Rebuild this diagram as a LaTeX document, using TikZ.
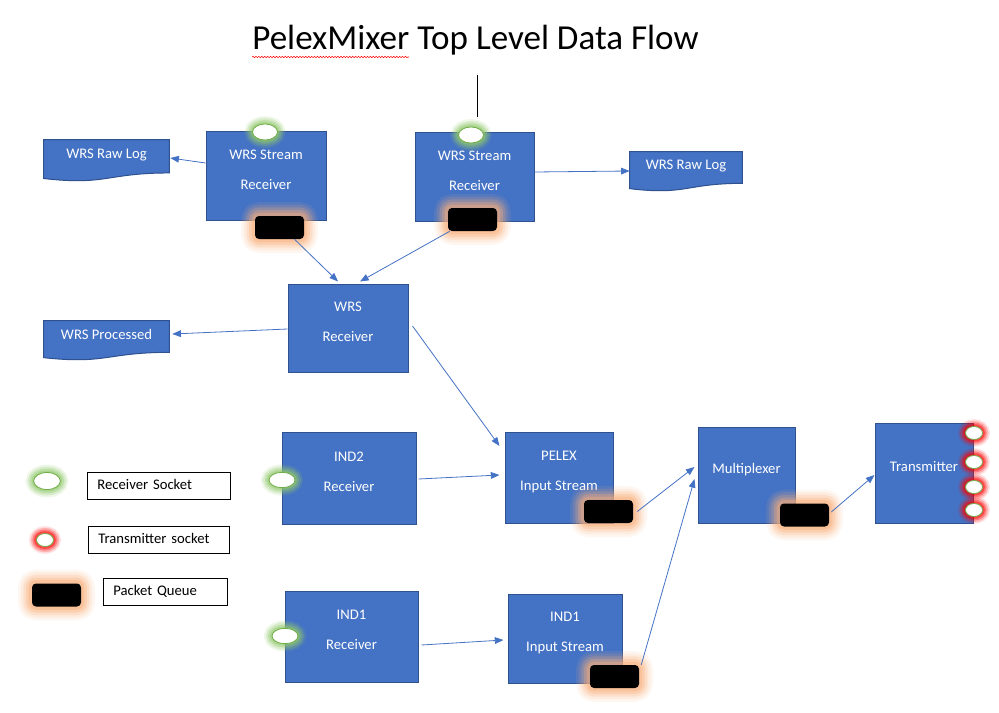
\documentclass[tikz,border=0pt]{standalone}
\usepackage{fontspec}
\setmainfont{Carlito}
\usepackage{xcolor}
\usepackage{tikz}
\usetikzlibrary{shapes.geometric, arrows.meta, calc, backgrounds, decorations.pathmorphing}

\definecolor{boxblue}{HTML}{4472C4}
\definecolor{boxline}{HTML}{2F528F}
\definecolor{sockgreen}{HTML}{70AD47}
\definecolor{glowgreen}{HTML}{92C96E}
\definecolor{glowred}{HTML}{FF0000}
\definecolor{gloworange}{HTML}{F8AE7A}

\tikzset{
    box/.style={draw=boxline, fill=boxblue, text=white, align=center, line width=0.75pt,
        font=\fontsize{11pt}{22.5pt}\selectfont, text depth=9.5pt},
    doc/.style={text=white, inner sep=0pt, font=\fontsize{11pt}{13pt}\selectfont, text depth=9.5pt},
    socket/.style={ellipse, draw=sockgreen, fill=white, inner sep=0pt, line width=0.6pt},
    rxglow/.style={preaction={draw=glowgreen, line width=12pt, draw opacity=0.15},
        preaction={draw=glowgreen, line width=9pt, draw opacity=0.25},
        preaction={draw=glowgreen, line width=6pt, draw opacity=0.35},
        preaction={draw=glowgreen, line width=3pt, draw opacity=0.5}},
    txglow/.style={preaction={draw=glowred, line width=11pt, draw opacity=0.12},
        preaction={draw=glowred, line width=8.5pt, draw opacity=0.2},
        preaction={draw=glowred, line width=6pt, draw opacity=0.3},
        preaction={draw=glowred, line width=3.5pt, draw opacity=0.45}},
    queue/.style={rectangle, rounded corners=3pt, fill=black, inner sep=0pt, line join=round,
        minimum width=36.75pt, minimum height=17.25pt,
        preaction={draw=gloworange, line width=21pt, draw opacity=0.1},
        preaction={draw=gloworange, line width=17pt, draw opacity=0.15},
        preaction={draw=gloworange, line width=13pt, draw opacity=0.22},
        preaction={draw=gloworange, line width=9pt, draw opacity=0.3},
        preaction={draw=gloworange, line width=5pt, draw opacity=0.4}},
    flow/.style={draw=boxblue, line width=0.6pt, -{Triangle[length=6.5pt, width=5pt]}},
    legend/.style={draw=black, fill=white, anchor=west, align=left, line width=0.6pt,
        inner xsep=7.5pt, minimum height=20.25pt, text height=7.5pt, text depth=2pt,
        font=\fontsize{11pt}{13pt}\selectfont}
}

\begin{document}
\begin{tikzpicture}[x=0.75pt, y=-0.75pt]
    \useasboundingbox (0,0) rectangle (999,713);

    \node[anchor=base, inner sep=0pt, font=\fontsize{26.3pt}{30pt}\selectfont] (title) at (475.5,50) {PelexMixer Top Level Data Flow};
    \draw[red, line width=0.4pt, decorate, decoration={snake, amplitude=0.5pt, segment length=2.2pt}]
        ($(title.base west)+(0,7)$) -- ($(title.base west)+(157,7)$);
    \coordinate (mark top) at (477,75);
    \coordinate (mark bottom) at (477,117);
    \draw[line width=0.7pt] (mark top) -- (mark bottom);

    \node[box, minimum width=90pt, minimum height=66pt] (wsrA) at (266,176) {WRS Stream\\Receiver};
    \node[box, minimum width=89.25pt, minimum height=66pt] (wsrB) at (474.5,177) {WRS Stream\\Receiver};
    \node[box, minimum width=90pt, minimum height=66pt] (wrs) at (348,328) {WRS\\Receiver};
    \node[box, minimum width=100.5pt, minimum height=69pt] (ind2rx) at (349,478) {IND2\\Receiver};
    \node[box, minimum width=81pt, minimum height=68.25pt] (pelex) at (559,477.5) {PELEX\\Input Stream};
    \node[box, minimum width=99.75pt, minimum height=68.25pt] (ind1rx) at (351.5,636.5) {IND1\\Receiver};
    \node[box, minimum width=85.5pt, minimum height=66.75pt] (ind1in) at (565,638.5) {IND1\\Input Stream};
    \node[box, minimum width=72.75pt, minimum height=72pt] (mux) at (746.5,475) {Multiplexer};
    \node[box, minimum width=73.5pt, minimum height=75pt] (tx) at (924,473) {Transmitter};

    \node[doc, minimum width=93.75pt, minimum height=30.75pt] (rawA) at (106.5,160.5) {WRS Raw Log};
    \node[doc, minimum width=84pt, minimum height=29.25pt] (rawB) at (686,171.5) {WRS Raw Log};
    \node[doc, minimum width=93.75pt, minimum height=29.25pt] (processed) at (106.5,340.5) {WRS Processed};
    \begin{scope}[on background layer]
        \foreach \d in {rawA, rawB, processed}
            \draw[draw=boxline, fill=boxblue, line width=0.75pt] (\d.north west) -- (\d.north east)
                -- ($(\d.north east)!0.8!(\d.south east)$)
                .. controls ($(\d.north)!0.8!(\d.south)$) and ($(\d.north)!1.107!(\d.south)$)
                .. ($(\d.north west)!0.934!(\d.south west)$) -- cycle;
    \end{scope}

    \node[socket, rxglow, minimum width=18.75pt, minimum height=12pt] (sockA) at (265,132) {};
    \node[socket, rxglow, minimum width=18.75pt, minimum height=12pt] (sockB) at (471,135) {};
    \node[socket, rxglow, minimum width=19.5pt, minimum height=11.5pt] (sockIND2) at (282,480) {};
    \node[socket, rxglow, minimum width=19.5pt, minimum height=11.5pt] (sockIND1) at (285,636) {};
    \foreach \y [count=\i] in {433,462,487,510}
        \node[socket, txglow, minimum width=12.75pt, minimum height=9.75pt] (txsock\i) at (974,\y) {};

    \node[queue] (qA) at (279.5,227.5) {};
    \node[queue] (qB) at (472.5,219.5) {};
    \node[queue] (qpelex) at (608.5,511.5) {};
    \node[queue] (qind1) at (614.5,676.5) {};
    \node[queue] (qmux) at (804.5,515) {};

    \draw[flow] ($(wsrA.west)+(0,-13)$) -- ($(rawA.east)+(1,-2.5)$);
    \draw[flow] ($(wsrB.east)+(0,-5)$) -- ($(rawB.west)+(0,-0.5)$);
    \draw[flow] ($(qA.south)+(15,0)$) -- ($(wrs.north)+(-10,-2)$);
    \draw[flow] ($(qB.south west)+(2,0)$) -- ($(wrs.north)+(12,-2)$);
    \draw[flow] ($(wrs.west)+(0,1)$) -- ($(processed.east)+(3,-6.5)$);
    \draw[flow] ($(wrs.east)+(4,-2)$) -- ($(pelex.west)+(-5,-31.5)$);
    \draw[flow] ($(ind2rx.east)+(2,1)$) -- ($(pelex.west)+(-5,-2.5)$);
    \draw[flow] ($(ind1rx.east)+(3,8.5)$) -- ($(ind1in.west)+(-4,1.5)$);
    \draw[flow] ($(qpelex.east)+(4,0)$) -- ($(mux.west)+(-3,-8)$);
    \draw[flow] ($(qind1.north east)+(2,0)$) -- ($(mux.west)+(-3,4)$);
    \draw[flow] ($(qmux.east)+(2,-3)$) -- ($(tx.west)+(0,2)$);

    \node[socket, rxglow, minimum width=20pt, minimum height=12.75pt] (keyrx) at (47,481) {};
    \node[socket, txglow, minimum width=12.75pt, minimum height=9.75pt] (keytx) at (45,540) {};
    \node[queue] (keyq) at (56.5,595) {};
    \node[legend, text width=92.25pt] (keyrxtext) at (87,485.5) {Receiver Socket};
    \node[legend, text width=90.75pt] (keytxtext) at (88,539.5) {Transmitter socket};
    \node[legend, text width=78pt] (keyqtext) at (103,592) {Packet Queue};
\end{tikzpicture}
\end{document}
